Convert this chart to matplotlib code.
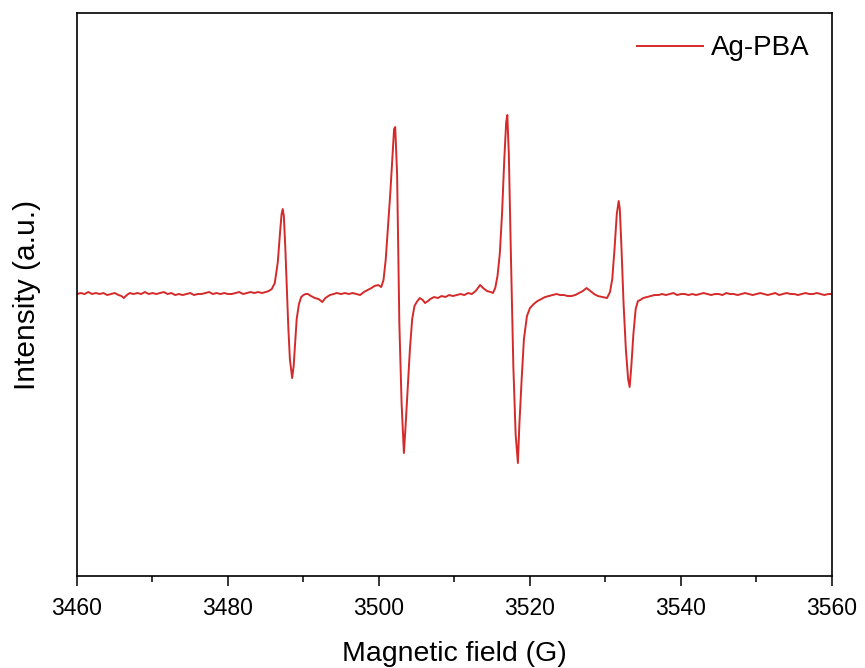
import matplotlib
matplotlib.use("Agg")
import matplotlib.pyplot as plt
from matplotlib.ticker import MultipleLocator

plt.rcParams["font.family"] = ["Liberation Sans", "DejaVu Sans"]

# ── Data ───────────────────────────────────────────────────────────────────────

field = [
    3460.0, 3460.5, 3461.0, 3461.5, 3462.0, 3462.5, 3463.0, 3463.5, 3464.0, 3464.5,
    3465.0, 3465.5, 3465.9, 3466.2, 3466.6, 3467.0, 3467.5, 3468.0, 3468.5, 3469.0,
    3469.5, 3470.0, 3470.5, 3471.0, 3471.5, 3472.0, 3472.5, 3473.0, 3473.5, 3474.0,
    3474.5, 3475.0, 3475.5, 3476.0, 3476.5, 3477.0, 3477.5, 3478.0, 3478.5, 3479.0,
    3479.5, 3480.0, 3480.5, 3481.0, 3481.5, 3482.0, 3482.5, 3483.0, 3483.5, 3484.0,
    3484.5, 3485.0, 3485.4, 3485.8, 3486.2, 3486.6, 3486.9, 3487.1, 3487.25, 3487.4,
    3487.6, 3487.8, 3488.0, 3488.2, 3488.5, 3488.7, 3488.9, 3489.1, 3489.4, 3489.7,
    3490.0, 3490.3, 3490.6, 3491.0, 3491.5, 3492.0, 3492.5, 3492.9, 3493.5, 3494.0,
    3494.4, 3495.0, 3495.5, 3496.0, 3496.5, 3497.0, 3497.5, 3498.0, 3498.5, 3499.0,
    3499.4, 3499.9, 3500.3, 3500.6, 3500.9, 3501.2, 3501.5, 3501.8, 3502.0, 3502.15,
    3502.4, 3502.7, 3503.0, 3503.3, 3503.5, 3503.8, 3504.1, 3504.4, 3504.7, 3505.0,
    3505.4, 3505.8, 3506.1, 3506.5, 3506.8, 3507.3, 3507.8, 3508.3, 3508.8, 3509.3,
    3509.8, 3510.3, 3510.8, 3511.3, 3511.8, 3512.3, 3512.8, 3513.1, 3513.4, 3513.8,
    3514.3, 3514.8, 3515.1, 3515.4, 3515.7, 3516.0, 3516.3, 3516.6, 3516.85, 3517.0,
    3517.2, 3517.5, 3517.8, 3518.1, 3518.4, 3518.6, 3518.9, 3519.2, 3519.6, 3520.0,
    3520.5, 3521.0, 3521.5, 3522.0, 3522.5, 3523.0, 3523.5, 3524.0, 3524.5, 3525.0,
    3525.5, 3526.0, 3526.5, 3527.0, 3527.5, 3528.0, 3528.5, 3529.0, 3529.6, 3530.2,
    3530.6, 3530.9, 3531.2, 3531.5, 3531.75, 3531.9, 3532.1, 3532.4, 3532.7, 3533.0,
    3533.2, 3533.4, 3533.7, 3534.0, 3534.3, 3534.6, 3535.0, 3535.5, 3536.0, 3536.5,
    3537.0, 3537.5, 3538.0, 3538.5, 3539.0, 3539.5, 3540.0, 3540.5, 3541.0, 3541.5,
    3542.0, 3542.5, 3543.0, 3543.5, 3544.0, 3544.5, 3545.0, 3545.5, 3546.0, 3546.5,
    3547.0, 3547.5, 3548.0, 3548.5, 3549.0, 3549.5, 3550.0, 3550.5, 3551.0, 3551.5,
    3552.0, 3552.5, 3553.0, 3553.5, 3554.0, 3554.5, 3555.0, 3555.5, 3556.0, 3556.5,
    3557.0, 3557.5, 3558.0, 3558.5, 3559.0, 3559.5, 3560.0,
]

intensity = [
    0, 1, 0, 2, 0, 1, 0, 1, -1, 0,
    1, -1, -2, -4, -1, 1, 0, 1, 0, 2,
    0, 1, 0, 1, 2, 0, 1, -1, 0, -1,
    0, 1, -1, 0, 0, 1, 2, 0, 1, 0,
    1, 0, 0, 1, 2, 0, 1, 2, 1, 2,
    1, 2, 3, 5, 11, 32, 62, 80, 85, 78,
    45, 5, -35, -65, -84, -72, -48, -25, -10, -3,
    -1, 0, 0, -2, -4, -5, -8, -4, -1, 0,
    1, 0, 1, 0, 1, 0, -1, 2, 4, 6,
    8, 9, 7, 14, 35, 68, 101, 140, 165, 167,
    120, -30, -110, -159, -135, -95, -55, -25, -12, -8,
    -4, -6, -9, -7, -5, -3, -4, -2, -3, -1,
    -2, -1, 0, -1, 1, 0, 3, 6, 9, 6,
    3, 2, 1, 6, 18, 40, 80, 135, 172, 179,
    140, 30, -73, -140, -169, -130, -85, -45, -22, -14,
    -10, -7, -5, -3, -2, -1, 0, -1, -1, -2,
    -2, -1, 1, 3, 6, 3, 0, -2, -3, -4,
    2, 15, 45, 80, 93, 85, 50, -10, -55, -85,
    -93, -75, -40, -15, -7, -6, -4, -3, -2, -1,
    -1, 0, -1, 0, 1, -1, 0, 0, -1, 0,
    -1, 0, 1, 0, -1, 0, 0, -1, 1, 0,
    0, -1, 0, 1, 0, -1, 0, 1, 0, -1,
    0, 1, -1, 0, 1, 0, 0, -1, 0, 1,
    0, 0, 1, 0, -1, 0, 0,
]

series_label = "Ag-PBA"
xticks_major = [3460, 3480, 3500, 3520, 3540, 3560]

# ── Figure ─────────────────────────────────────────────────────────────────────

fig = plt.figure(figsize=(8.65, 6.68), dpi=100)
ax = fig.add_axes([0.089, 0.1377, 0.8728, 0.8428])

ax.plot(field, intensity, color="#d42a2a", linewidth=1.4, label=series_label)

ax.set_xlim(3460, 3560)
ax.set_ylim(-282, 281)
ax.set_xticks(xticks_major)
ax.xaxis.set_minor_locator(MultipleLocator(10))
ax.set_yticks([])

ax.tick_params(axis="x", which="major", direction="out", length=7, width=1.1,
               labelsize=16.5, pad=8)
ax.tick_params(axis="x", which="minor", direction="out", length=4.5, width=1.1)
ax.tick_params(top=False, right=False)
for sp in ax.spines.values():
    sp.set_linewidth(1.2)

ax.set_xlabel("Magnetic field (G)", fontsize=20.5, labelpad=15)
ax.set_ylabel("Intensity (a.u.)", fontsize=21.5, labelpad=26)

ax.legend(loc="upper right", frameon=False, fontsize=20, handlelength=2.35,
          handletextpad=0.3, borderaxespad=0.4)

fig.savefig("out.png", dpi=100)
plt.close(fig)
